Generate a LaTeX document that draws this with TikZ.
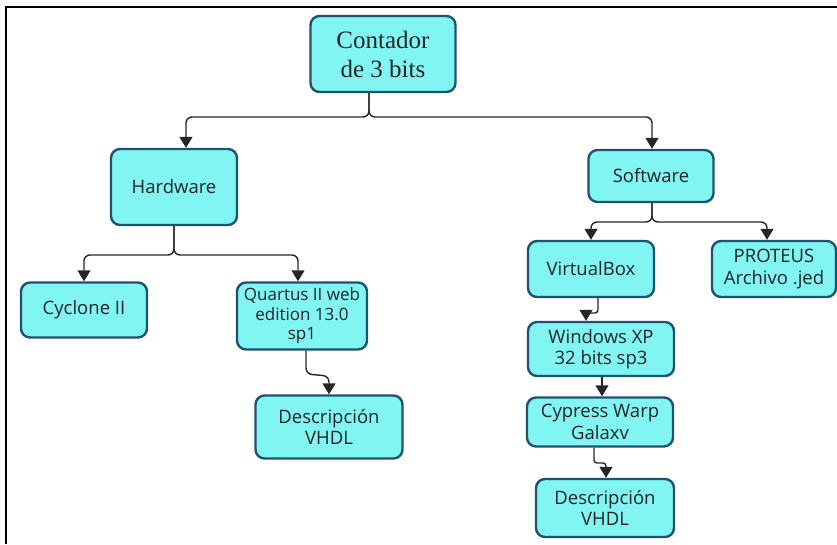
\documentclass[tikz,border=0pt]{standalone}
\usepackage{fontspec}
\setmainfont{Open Sans}
\newfontfamily\titlefont{Liberation Serif}
\usetikzlibrary{arrows.meta}
\definecolor{boxfill}{RGB}{128,245,241}
\definecolor{boxline}{RGB}{30,82,112}
\definecolor{txt}{RGB}{35,35,40}
\tikzset{
  box/.style={draw=boxline, fill=boxfill, line width=2.4pt, rounded corners=9pt,
    align=center, text=txt, font=\fontsize{18.5}{21.5}\selectfont, inner sep=2pt},
  conn/.style={draw=black!85, line width=1.4pt, rounded corners=6pt,
    -{Triangle[length=11pt,width=13pt]}},
}
\begin{document}
\begin{tikzpicture}[x=1pt,y=-1pt]
\useasboundingbox (0,0) rectangle (837,544);
\draw[line width=2.6pt] (6,544) -- (6,7) -- (837,7);

\node[box, minimum width=145pt, minimum height=76pt, font=\titlefont\fontsize{25}{29}\selectfont] (root) at (383,54) {Contador\\de 3 bits};
\node[box, minimum width=126pt, minimum height=76pt] (hw) at (174,187) {Hardware};
\node[box, minimum width=125pt, minimum height=52pt] (sw) at (651,176) {Software};
\node[box, minimum width=126pt, minimum height=55pt] (cyc) at (84,310) {Cyclone II};
\node[box, minimum width=130pt, minimum height=67pt, font=\fontsize{17}{19.5}\selectfont] (qua) at (302,316) {Quartus II web\\edition 13.0\\sp1};
\node[box, minimum width=147pt, minimum height=63pt] (d1) at (329,427) {Descripción\\VHDL};
\node[box, minimum width=126pt, minimum height=56pt] (vb) at (591,269) {VirtualBox};
\node[box, minimum width=124pt, minimum height=56pt] (pro) at (774,269) {PROTEUS\\Archivo .jed};
\node[box, minimum width=146pt, minimum height=54pt] (win) at (601,349) {Windows XP\\32 bits sp3};
\node[box, minimum width=146pt, minimum height=49pt] (cyp) at (600,422) {Cypress Warp\\Galaxv};
\node[box, minimum width=138pt, minimum height=58pt] (d2) at (605,508) {Descripción\\VHDL};

% root branches
\coordinate (rj) at (369,117);
\draw[conn] (root.south -| rj) |- (186,117) -- (hw.north -| 186,0);
\draw[conn] (root.south -| rj) |- (652,117) -- (sw.north -| 652,0);

% hardware branches
\draw[conn] (hw.south) |- (84,255) -- (cyc.north);
\draw[conn] (hw.south) |- (298,255) -- (qua.north -| 298,0);

% quartus -> descripcion
\draw[conn] (qua.south -| 306,0) -- (306,374) -- (329,376) -- (d1.north);

% software branches
\draw[conn] (sw.south -| 652,0) |- (591,222) -- (vb.north);
\draw[conn] (sw.south -| 652,0) |- (767,222) -- (pro.north -| 767,0);

% chain
\draw[conn, rounded corners=3pt] (vb.south -| 598,0) -- (598,313) -- (586,313) -- (win.north -| 586,0);
\draw[conn] (win.south -| 602,0) -- (cyp.north -| 602,0);
\draw[conn, rounded corners=3pt] (cyp.south -| 594,0) -- (594,463) -- (606,463) -- (d2.north -| 606,0);
\end{tikzpicture}
\end{document}
